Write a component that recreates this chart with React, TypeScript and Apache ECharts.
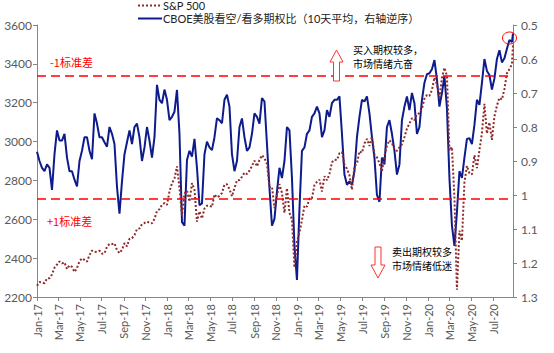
import React, { useEffect, useRef } from "react";
import * as echarts from "echarts";

// ---- data ----
const firstWeek = "2017-01-01";
const lastDay = "2020-08-26";
const monthNames = ["Jan", "Feb", "Mar", "Apr", "May", "Jun", "Jul", "Aug", "Sep", "Oct", "Nov", "Dec"];

const spxValues = [
  2258,
  // 2017
  2277, 2274, 2271, 2295, 2297, 2316, 2351, 2367, 2383, 2373, 2378, 2344, 2363,
  2355, 2329, 2349, 2384, 2399, 2391, 2382, 2416, 2439, 2432, 2433, 2438, 2423,
  2425, 2459, 2473, 2472, 2476, 2441, 2426, 2443, 2477, 2461, 2500, 2502, 2519,
  2549, 2553, 2575, 2581, 2588, 2582, 2579, 2602, 2642, 2652, 2675, 2683, 2674,
  // 2018
  2743, 2786, 2810, 2873, 2762, 2620, 2732, 2747, 2691, 2786, 2752, 2588, 2641,
  2604, 2656, 2670, 2670, 2663, 2728, 2713, 2721, 2735, 2779, 2780, 2755, 2718,
  2760, 2801, 2802, 2819, 2840, 2833, 2850, 2875, 2902, 2872, 2905, 2930, 2914,
  2885, 2767, 2768, 2658, 2723, 2781, 2736, 2633, 2760, 2633, 2600, 2351, 2486,
  // 2019
  2532, 2596, 2671, 2665, 2707, 2708, 2776, 2793, 2804, 2743, 2822, 2801, 2834,
  2893, 2907, 2905, 2940, 2946, 2881, 2860, 2826, 2752, 2873, 2887, 2950, 2942,
  2990, 3014, 2977, 3026, 2932, 2919, 2889, 2847, 2926, 2979, 3007, 2992, 2962,
  2952, 2970, 2986, 3023, 3067, 3093, 3120, 3110, 3141, 3146, 3169, 3221, 3240,
  // 2020
  3235, 3265, 3330, 3295, 3226, 3328, 3380, 3338, 2954, 2972, 2711, 2237, 2541,
  2489, 2790, 2875, 2837, 2831, 2930, 2864, 2955, 3044, 3194, 3041, 3098, 3009,
  3130, 3185, 3225, 3216, 3271, 3351, 3373, 3397,
  3500,
];

const ratioValues = [
  0.873, 0.9, 0.92, 0.93, 0.91, 0.92, 0.985, 0.88, 0.81, 0.84, 0.84, 0.82, 0.89,
  0.93, 0.93, 0.955, 0.975, 0.9, 0.87, 0.83, 0.83, 0.87, 0.895, 0.76, 0.79, 0.83,
  0.83, 0.845, 0.858, 0.8, 0.82, 0.85, 0.976, 1.055, 0.96, 0.88, 0.845, 0.81, 0.85,
  0.8, 0.79, 0.83, 0.9, 0.86, 0.8, 0.84, 0.89, 0.83, 0.676, 0.72, 0.73, 0.69,
  0.72, 0.78, 0.77, 0.755, 0.691, 0.82, 1.08, 1.09, 0.897, 0.87, 0.887, 0.835, 0.92,
  1.03, 1.025, 0.88, 0.843, 0.86, 0.868, 0.83, 0.774, 0.78, 0.789, 0.72, 0.705, 0.74,
  0.88, 0.93, 0.9, 0.8, 0.775, 0.83, 0.87, 0.86, 0.82, 0.76, 0.77, 0.79, 0.715,
  0.725, 0.85, 0.98, 1.09, 1.07, 0.99, 0.92, 0.95, 0.9, 0.8, 0.81, 0.95, 1.15,
  1.25, 1.04, 0.87, 0.86, 0.82, 0.81, 0.77, 0.76, 0.74, 0.76, 0.83, 0.81, 0.75,
  0.77, 0.73, 0.72, 0.72, 0.71, 0.82, 0.94, 0.97, 0.96, 0.97, 0.93, 0.83, 0.77,
  0.72, 0.725, 0.71, 0.76, 0.83, 0.89, 1.0, 1.02, 0.89, 0.91, 0.8, 0.78, 0.82,
  0.87, 0.94, 0.91, 0.78, 0.74, 0.71, 0.75, 0.7, 0.73, 0.82, 0.8, 0.72, 0.67,
  0.645, 0.642, 0.63, 0.603, 0.66, 0.74, 0.7, 0.65, 0.745, 0.95, 1.09, 1.15, 1.05,
  0.93, 0.95, 0.89, 0.835, 0.833, 0.85, 0.794, 0.72, 0.735, 0.67, 0.6, 0.635, 0.647,
  0.69, 0.657, 0.6, 0.574, 0.61, 0.598, 0.57, 0.544, 0.55,
  0.525,
];

const bandLevels = [0.653, 1.006]; // ratio: -1 std / +1 std lines (right axis, inverted)

const spxName = "S&P 500";
const ratioName = "CBOE美股看空/看多期权比（10天平均，右轴逆序）";

// ---- helpers ----
const DAY = 86400000;
const pad = (n: number) => (n < 10 ? "0" + n : "" + n);
const fmt = (t: number) => {
  const d = new Date(t);
  return d.getUTCFullYear() + "-" + pad(d.getUTCMonth() + 1) + "-" + pad(d.getUTCDate());
};
const parse = (s: string) => Date.UTC(+s.slice(0, 4), +s.slice(5, 7) - 1, +s.slice(8, 10));

const dayCategories: string[] = [];
for (let t = parse(firstWeek); t <= parse(lastDay); t += DAY) dayCategories.push(fmt(t));

const weekDates: string[] = [];
for (let k = 0; k < ratioValues.length - 1; k++) weekDates.push(fmt(parse(firstWeek) + 7 * k * DAY));
weekDates.push(lastDay);

const isLabelDay = (_i: number, v: string) => v.slice(8, 10) === "01" && (+v.slice(5, 7)) % 2 === 1;

const latin = "Lato, 'Noto Sans CJK SC', sans-serif";
const cjk = "'Noto Sans CJK SC', sans-serif";

export default function App() {
  const ref = useRef<HTMLDivElement>(null);
  useEffect(() => {
    if (!ref.current) return;
    const chart = echarts.init(ref.current, undefined, { renderer: "svg" });
    const axisGrey = "#868686";
    const labelGrey = "#595959";
    const spxColor = "#8E2A2A";
    const ratioColor = "#0D1B8C";
    chart.setOption({
      animation: false,
      backgroundColor: "#ffffff",
      grid: { left: 37, right: 41, top: 25, bottom: 56, containLabel: false },
      legend: {
        orient: "vertical",
        left: 137,
        top: 0,
        itemGap: 2,
        itemWidth: 24,
        itemHeight: 12,
        padding: 0,
        itemStyle: { opacity: 0 },
        textStyle: { fontSize: 11, lineHeight: 11, color: "#222", fontFamily: latin, padding: [0, 0, 0, -4] },
        data: [spxName, ratioName],
      },
      xAxis: {
        type: "category",
        data: dayCategories,
        boundaryGap: false,
        axisLine: { onZero: false, lineStyle: { color: axisGrey, width: 1 } },
        axisTick: { interval: isLabelDay, length: 4, lineStyle: { color: axisGrey } },
        axisLabel: {
          interval: isLabelDay,
          rotate: 90,
          fontSize: 11,
          color: labelGrey,
          fontFamily: latin,
          margin: 7,
          formatter: (v: string) => monthNames[+v.slice(5, 7) - 1] + "-" + v.slice(2, 4),
        },
        splitLine: { show: false },
      },
      yAxis: [
        {
          type: "value",
          min: 2200,
          max: 3600,
          interval: 200,
          axisLine: { show: true, lineStyle: { color: axisGrey } },
          axisTick: { show: true, length: 4, lineStyle: { color: axisGrey } },
          axisLabel: {
            fontSize: 12,
            color: labelGrey,
            fontFamily: latin,
            margin: 5,
            formatter: (v: number) => String(v),
          },
          splitLine: { show: false },
        },
        {
          type: "value",
          inverse: true,
          min: 0.5,
          max: 1.3,
          interval: 0.1,
          position: "right",
          axisLine: { show: true, lineStyle: { color: axisGrey } },
          axisTick: { show: true, length: 4, lineStyle: { color: axisGrey } },
          axisLabel: {
            fontSize: 12,
            color: labelGrey,
            fontFamily: latin,
            margin: 8,
            formatter: (v: number) => String(Math.round(v * 10) / 10),
          },
          splitLine: { show: false },
        },
      ],
      series: [
        {
          name: spxName,
          type: "line",
          yAxisIndex: 0,
          data: weekDates.map((d, i) => [d, spxValues[i]]),
          showSymbol: false,
          symbol: "none",
          lineStyle: { color: spxColor, width: 2, type: [2, 2] },
          itemStyle: { color: spxColor },
          z: 3,
        },
        {
          name: ratioName,
          type: "line",
          yAxisIndex: 1,
          data: weekDates.map((d, i) => [d, ratioValues[i]]),
          showSymbol: false,
          symbol: "none",
          lineStyle: { color: ratioColor, width: 2 },
          itemStyle: { color: ratioColor },
          z: 2,
          markLine: {
            silent: true,
            symbol: "none",
            label: { show: false },
            lineStyle: { color: "#FF0000", width: 1.5, type: [9, 5] },
            data: bandLevels.map((v) => ({ yAxis: v })),
          },
        },
      ],
      graphic: [
        { type: "text", left: 50, top: 56, style: { text: "-1标准差", fontSize: 11, fill: "#FF0000", fontFamily: cjk } },
        { type: "text", left: 47, top: 215, style: { text: "+1标准差", fontSize: 11, fill: "#FF0000", fontFamily: cjk } },
        { type: "text", left: 353, top: 44, style: { text: "买入期权较多，", fontSize: 10, fill: "#000", fontFamily: cjk } },
        { type: "text", left: 353, top: 58, style: { text: "市场情绪亢奋", fontSize: 10, fill: "#000", fontFamily: cjk } },
        { type: "text", left: 392, top: 246, style: { text: "卖出期权较多", fontSize: 10, fill: "#000", fontFamily: cjk } },
        { type: "text", left: 392, top: 260, style: { text: "市场情绪低迷", fontSize: 10, fill: "#000", fontFamily: cjk } },
        {
          type: "polygon",
          shape: { points: [[336.5, 50], [343, 62], [339.5, 62], [339.5, 81], [333.5, 81], [333.5, 62], [330, 62]] },
          style: { fill: "#fff", stroke: "#FF3030", lineWidth: 1 },
          z: 10,
        },
        {
          type: "polygon",
          shape: { points: [[378, 278], [385, 265], [381, 265], [381, 247], [375, 247], [375, 265], [371, 265]] },
          style: { fill: "#fff", stroke: "#FF3030", lineWidth: 1 },
          z: 10,
        },
        {
          type: "ellipse",
          shape: { cx: 509.5, cy: 38, rx: 7, ry: 6 },
          style: { fill: "none", stroke: "#FF0000", lineWidth: 1 },
          z: 10,
        },
      ],
    });
    return () => chart.dispose();
  }, []);
  return <div ref={ref} style={{ position: "fixed", left: 0, top: 0, width: 554, height: 353 }} />;
}
